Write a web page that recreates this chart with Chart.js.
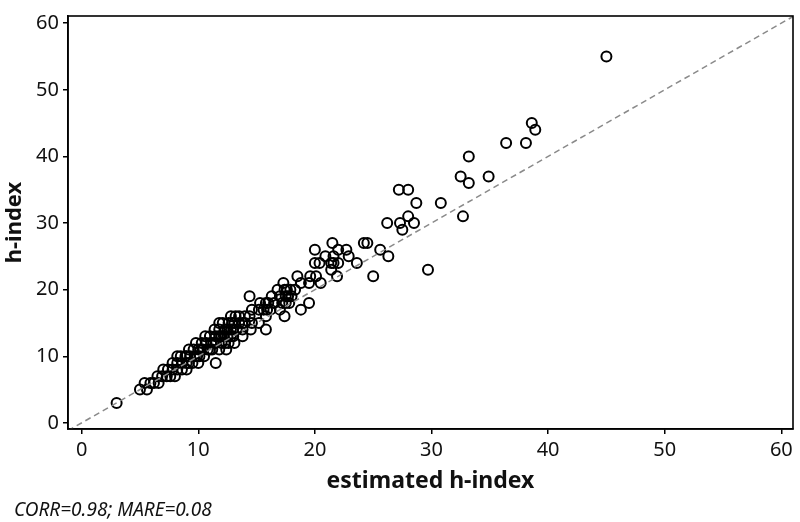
<!DOCTYPE html>
<html>
<head>
<meta charset="utf-8">
<script src="https://cdn.jsdelivr.net/npm/chart.js@4/dist/chart.umd.min.js"></script>
<style>
  html, body { margin: 0; padding: 0; background: #fff; }
  #wrap { width: 800px; height: 522px; position: relative; }
</style>
</head>
<body>
<div id="wrap"><canvas id="scatter"></canvas></div>
<script>
// estimated h-index (x) and real h-index (y), one entry per author
const estimated = [
    3.0,
    5.0, 5.6,
    5.4, 5.9, 6.2, 6.6,
    6.5, 6.9, 7.3, 7.6, 8.0,
    7.0, 7.4, 7.8, 8.2, 8.6, 9.0,
    7.8, 8.2, 8.6, 9.0, 9.2, 9.5, 10.0, 11.5,
    8.2, 8.5, 8.9, 9.0, 9.3, 9.7, 9.9, 10.1, 10.5,
    9.2, 9.6, 10.0, 10.2, 10.4, 10.8, 11.0, 11.2, 11.8, 12.4,
    9.8, 10.3, 10.7, 11.1, 11.3, 11.5, 12.0, 12.3, 12.6, 13.1,
    10.6, 11.0, 11.5, 11.8, 12.0, 12.2, 12.5, 12.8, 13.0, 13.8,
    11.4, 11.8, 12.3, 12.5, 12.8, 13.0, 13.3, 13.8, 14.5, 15.8,
    11.8, 12.1, 12.6, 12.9, 13.1, 13.5, 13.8, 14.0, 14.6, 15.2,
    12.8, 13.2, 13.5, 14.0, 14.4, 15.8, 17.4,
    14.6, 15.2, 15.6, 15.9, 16.2, 17.0, 18.8,
    15.3, 15.8, 16.0, 16.5, 17.2, 17.5, 17.8, 19.5,
    14.4, 16.3, 17.0, 17.5, 17.7, 18.0,
    16.8, 17.4, 17.6, 17.9, 18.3,
    17.3, 18.8, 19.5, 20.5,
    18.5, 19.6, 20.1, 21.9, 25.0,
    21.4, 29.7,
    20.0, 20.4, 21.4, 21.6, 22.0, 23.6,
    20.9, 21.6, 22.9, 26.3,
    20.0, 22.0, 22.7, 25.6,
    21.5, 24.2, 24.5,
    27.5,
    26.2, 27.3, 28.5,
    28.0, 32.7,
    28.7, 30.8,
    27.2, 28.0,
    33.2,
    32.5, 34.9,
    33.2,
    36.4, 38.1,
    38.9,
    38.6,
    45.0
];
const hIndex = [
    3,
    5, 5,
    6, 6, 6, 6,
    7, 7, 7, 7, 7,
    8, 8, 8, 8, 8, 8,
    9, 9, 9, 9, 9, 9, 9, 9,
    10, 10, 10, 10, 10, 10, 10, 10, 10,
    11, 11, 11, 11, 11, 11, 11, 11, 11, 11,
    12, 12, 12, 12, 12, 12, 12, 12, 12, 12,
    13, 13, 13, 13, 13, 13, 13, 13, 13, 13,
    14, 14, 14, 14, 14, 14, 14, 14, 14, 14,
    15, 15, 15, 15, 15, 15, 15, 15, 15, 15,
    16, 16, 16, 16, 16, 16, 16,
    17, 17, 17, 17, 17, 17, 17,
    18, 18, 18, 18, 18, 18, 18, 18,
    19, 19, 19, 19, 19, 19,
    20, 20, 20, 20, 20,
    21, 21, 21, 21,
    22, 22, 22, 22, 22,
    23, 23,
    24, 24, 24, 24, 24, 24,
    25, 25, 25, 25,
    26, 26, 26, 26,
    27, 27, 27,
    29,
    30, 30, 30,
    31, 31,
    33, 33,
    35, 35,
    36,
    37, 37,
    40,
    42, 42,
    44,
    45,
    55
];
const xTicks = [0, 10, 20, 30, 40, 50, 60];
const yTicks = [0, 10, 20, 30, 40, 50, 60];
const xRange = [-1.17, 61.0];
const yRange = [-0.92, 61.08];
const note = "CORR=0.98; MARE=0.08";

const FONT = "'Noto Sans', 'Open Sans', sans-serif";

const points = estimated.map((x, i) => ({x: x, y: hIndex[i]}));

// box around the plot + the little note in the corner
const framePlugin = {
    id: "frame",
    afterDatasetsDraw(chart) {
        const {ctx, chartArea: a} = chart;
        ctx.save();
        ctx.strokeStyle = "#000";
        ctx.lineWidth = 1.6;
        ctx.strokeRect(a.left, a.top, a.right - a.left, a.bottom - a.top);
        ctx.restore();
    },
    afterDraw(chart) {
        const ctx = chart.ctx;
        ctx.save();
        ctx.font = "italic 19px " + FONT;
        ctx.fillStyle = "#111";
        ctx.textBaseline = "alphabetic";
        ctx.fillText(note, 14, 516);
        ctx.restore();
    }
};

const ctx = document.getElementById("scatter").getContext("2d");
new Chart(ctx, {
    type: "scatter",
    data: {
        datasets: [{
            type: "line",
            data: [{x: xRange[0], y: xRange[0]}, {x: xRange[1], y: xRange[1]}],
            borderColor: "#8a8a8a",
            borderWidth: 1.5,
            borderDash: [6, 4],
            pointRadius: 0,
            fill: false
        }, {
            data: points,
            pointRadius: 5,
            pointBorderWidth: 2,
            borderColor: "#000",
            backgroundColor: "rgba(0,0,0,0)"
        }]
    },
    options: {
        responsive: true,
        maintainAspectRatio: false,
        animation: false,
        layout: {padding: {top: 5, right: 4, left: 0, bottom: 0}},
        plugins: {
            legend: {display: false},
            tooltip: {enabled: false}
        },
        scales: {
            x: {
                type: "linear",
                min: xRange[0],
                max: xRange[1],
                afterBuildTicks: s => { s.ticks = xTicks.map(v => ({value: v})); },
                afterFit: s => { s.height = 93; },
                grid: {display: true, drawOnChartArea: false, drawTicks: true, tickLength: 5, color: "#000", lineWidth: 1.5},
                border: {display: true, color: "#000", width: 1.6},
                ticks: {color: "#111", padding: 4, font: {family: FONT, size: 20}},
                title: {display: true, text: "estimated h-index", color: "#111", padding: {top: 0, bottom: 27},
                    font: {family: FONT, size: 23, weight: "bold"}}
            },
            y: {
                type: "linear",
                min: yRange[0],
                max: yRange[1],
                afterBuildTicks: s => { s.ticks = yTicks.map(v => ({value: v})); },
                afterFit: s => { s.width = 68; },
                grid: {display: true, drawOnChartArea: false, drawTicks: true, tickLength: 5, color: "#000", lineWidth: 1.5},
                border: {display: true, color: "#000", width: 1.6},
                ticks: {color: "#111", padding: 4, font: {family: FONT, size: 20}},
                title: {display: true, text: "h-index", color: "#111", padding: {top: 2, bottom: 0},
                    font: {family: FONT, size: 22, weight: "bold"}}
            }
        }
    },
    plugins: [framePlugin]
});
</script>
</body>
</html>
